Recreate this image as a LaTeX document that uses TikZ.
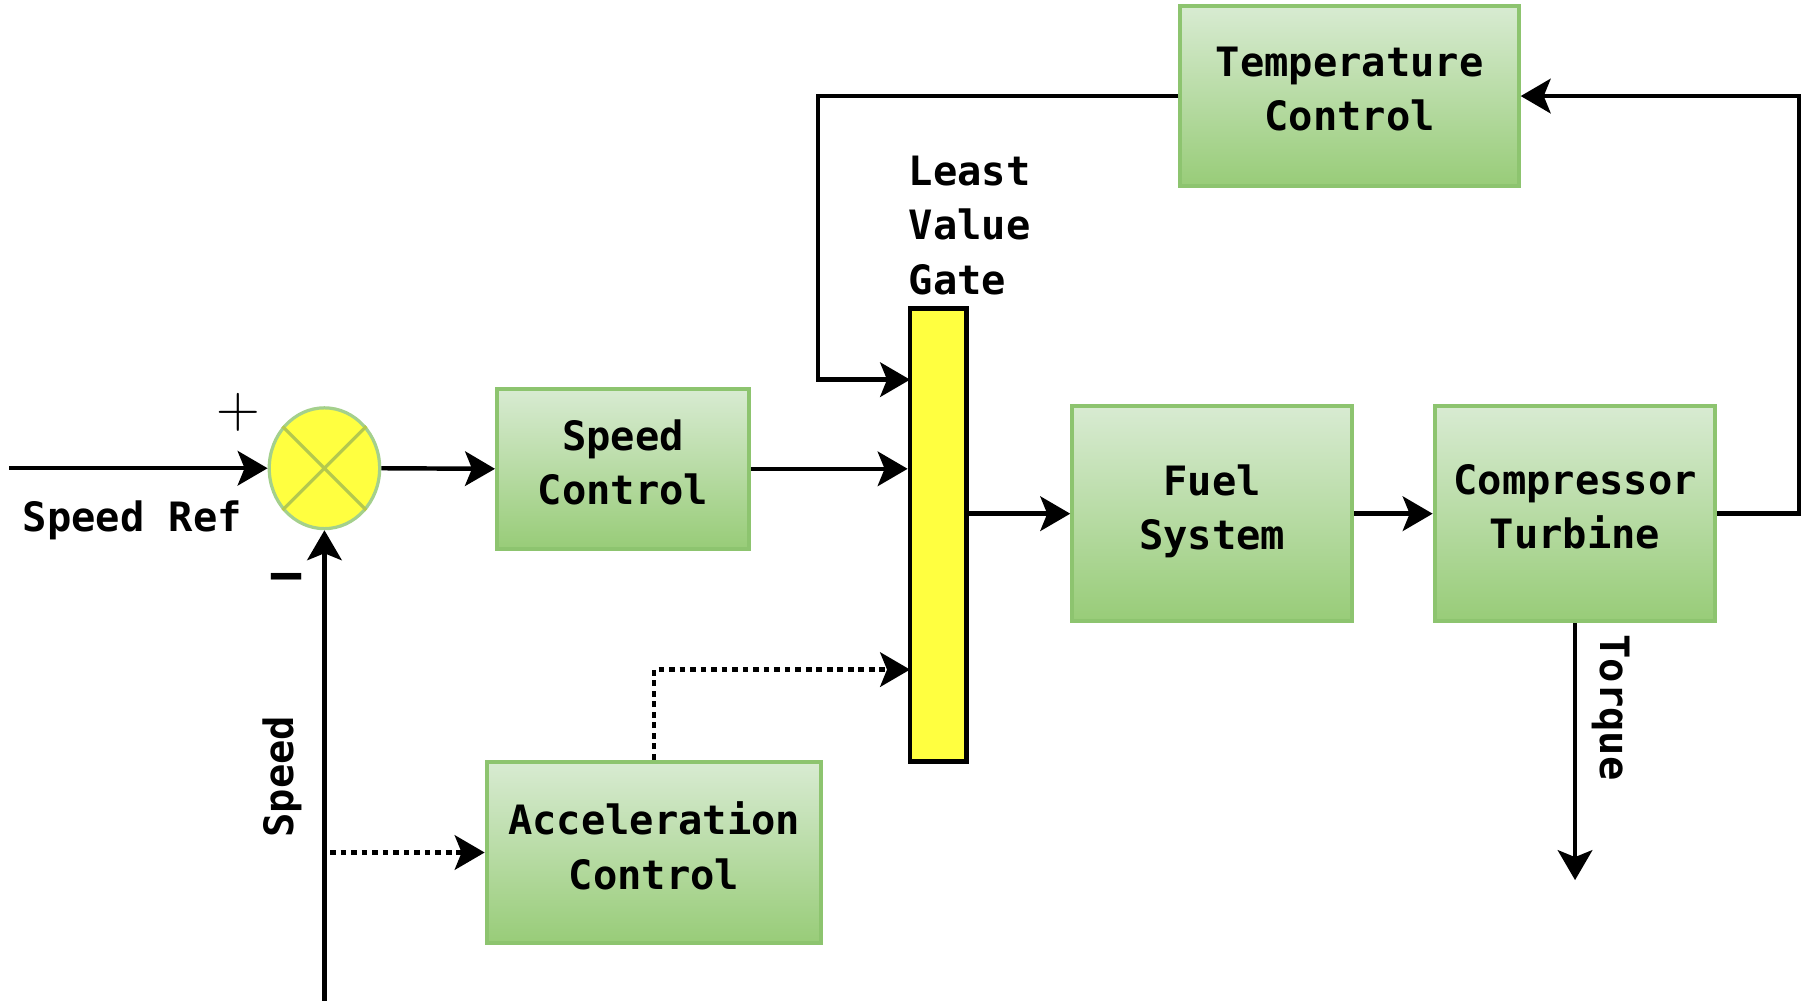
\documentclass[tikz,border=0pt]{standalone}
\usepackage{fontspec}
\setmonofont{DejaVu Sans Mono}
\usetikzlibrary{arrows.meta, positioning, shapes.geometric}
\definecolor{gtop}{HTML}{D8EBD2}
\definecolor{gbot}{HTML}{98CC78}
\definecolor{gedge}{HTML}{8DC46F}
\definecolor{cyellow}{HTML}{FFFF40}
\definecolor{ccross}{HTML}{B4C84E}
\tikzset{
  every picture/.style={font=\ttfamily\bfseries\fontsize{10}{13.4}\selectfont, line width=1.1pt},
  block/.style={draw=gedge, top color=gtop, bottom color=gbot, align=center, inner sep=0pt, text depth=1.2mm, line width=1pt},
  arrow/.style={-{Stealth[length=2.6mm, width=3mm, inset=0.6mm]}, draw=black},
  dotarrow/.style={arrow, dash pattern=on 1.4pt off 1.2pt},
  note/.style={align=left, inner sep=0pt},
}

\begin{document}
\begin{tikzpicture}[x=0.1mm, y=-0.1mm]
  \useasboundingbox (0,0) rectangle (1568,872);
  % the green blocks
  \foreach \n/\p/\w/\h/\txt in {speed/{541.5,407.5}/21.9/13.9/{Speed\\Control},
                                temp/{1173,83.5}/29.4/15.7/{Temperature\\Control},
                                fuel/{1053.5,446.5}/24.3/18.7/{Fuel\\System},
                                comp/{1369,446.5}/24.4/18.7/{Compressor\\Turbine},
                                accel/{568.5,741}/29.1/15.8/{Acceleration\\Control}} {
    \node[block, minimum width=\w mm, minimum height=\h mm] (\n) at (\p) {\txt};
  }
  \node[draw=black, fill=cyellow, line width=1.2pt, minimum width=4.9mm, minimum height=39.4mm] (lvg) at (815.5,465) {};
  \node[ellipse, draw=gedge!80, fill=cyellow, line width=0.8pt, minimum width=9.6mm, minimum height=10.5mm] (sum) at (282,407) {};
  \draw[ccross, line width=0.8pt] (sum.45) -- (sum.225) (sum.135) -- (sum.315);

  \node[note, anchor=west] (lvglbl) at (788,196) {Least\\Value\\Gate};
  \node (reflbl) at (115,452) {Speed Ref};
  \node[rotate=90] (spdlbl) at (245,675) {Speed};
  \node[rotate=-90] (torlbl) at (1400,615) {Torque};
  \node[font=\rmfamily\fontsize{15}{15}\selectfont] (plus) at (207,358) {+};
  \node[font=\ttfamily\bfseries\fontsize{14}{14}\selectfont] (minus) at (249,508) {−};

  \coordinate (refin) at (8,407);
  \coordinate (spdin) at (282,870);
  \coordinate (torque) at (1369,765);
  \coordinate (lvgtop) at (791,330);
  \coordinate (lvgbot) at (791,582);

  \draw[arrow] (refin) -- (sum.west);
  \draw[arrow] (spdin) -- (sum.south);
  \draw[arrow] (sum.east) -- (speed.west);
  \draw[arrow] (speed.east) -- (speed.east -| lvg.west);
  \draw[arrow] (temp.west) -- (711,83.5) |- (lvgtop);
  \draw[arrow] (fuel.west -| lvg.east) -- (fuel.west);
  \draw[arrow] (fuel.east) -- (comp.west);
  \draw[arrow] (comp.east) -- ++(71,0) |- (temp.east);
  \draw[arrow] (comp.south) -- (torque);
  \draw[dotarrow] ([xshift=0.5mm]spdin |- accel.west) -- (accel.west);
  \draw[dotarrow] (accel.north) |- (lvgbot);
\end{tikzpicture}
\end{document}
